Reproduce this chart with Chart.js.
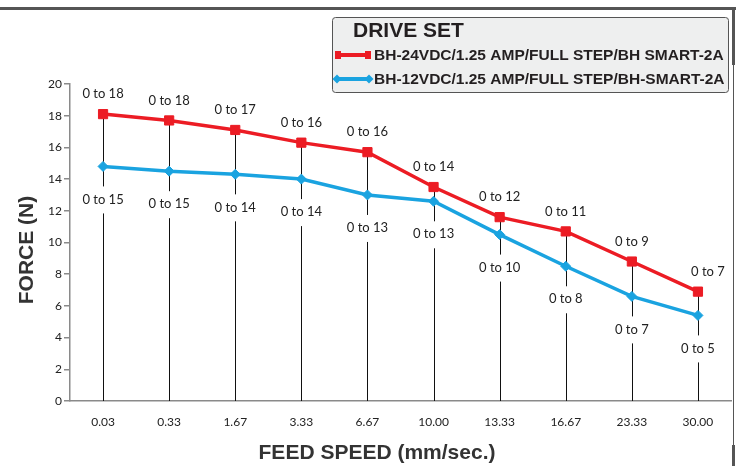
<!DOCTYPE html>
<html>
<head>
<meta charset="utf-8">
<script src="https://cdn.jsdelivr.net/npm/chart.js@4.4.0/dist/chart.umd.min.js"></script>
<style>
  html, body { margin: 0; padding: 0; background: #fff; }
  #wrap { width: 743px; height: 466px; position: relative; }
</style>
</head>
<body>
<div id="wrap"><canvas id="chart"></canvas></div>
<script>
// feed speed categories (mm/sec.)
const speeds = ['0.03', '0.33', '1.67', '3.33', '6.67', '10.00', '13.33', '16.67', '23.33', '30.00'];

// force (N) per drive set
const force24 = [18.1, 17.7, 17.1, 16.3, 15.7, 13.5, 11.6, 10.7, 8.8, 6.9];
const force12 = [14.8, 14.5, 14.3, 14.0, 13.0, 12.6, 10.5, 8.5, 6.6, 5.4];

// range labels printed next to the points
const labels24 = ['0 to 18', '0 to 18', '0 to 17', '0 to 16', '0 to 16', '0 to 14', '0 to 12', '0 to 11', '0 to 9', '0 to 7'];
const labels12 = ['0 to 15', '0 to 15', '0 to 14', '0 to 14', '0 to 13', '0 to 13', '0 to 10', '0 to 8', '0 to 7', '0 to 5'];

const legendTitle = 'DRIVE SET';
const series24Name = 'BH-24VDC/1.25 AMP/FULL STEP/BH SMART-2A';
const series12Name = 'BH-12VDC/1.25 AMP/FULL STEP/BH-SMART-2A';
const xTitle = 'FEED SPEED (mm/sec.)';
const yTitle = 'FORCE (N)';

const RED = '#ec1c24';
const BLUE = '#1aa3e0';
const labelFont = '13px Lato';
const titleFont = 'bold 21px "Liberation Sans"';

// vertical drop lines + range labels
const dropLabels = {
  id: 'dropLabels',
  beforeDatasetsDraw(chart) {
    const { ctx } = chart;
    const x = chart.scales.x, y = chart.scales.y;
    const y0 = y.getPixelForValue(0);
    ctx.save();
    ctx.strokeStyle = '#111';
    ctx.lineWidth = 1;
    speeds.forEach((s, i) => {
      const px = Math.round(x.getPixelForValue(i)) + 0.5;
      ctx.beginPath();
      ctx.moveTo(px, y.getPixelForValue(force24[i]));
      ctx.lineTo(px, y0);
      ctx.stroke();
    });
    // blue labels sit on white boxes that break the line
    ctx.font = labelFont;
    ctx.textAlign = 'center';
    ctx.textBaseline = 'middle';
    speeds.forEach((s, i) => {
      const px = x.getPixelForValue(i);
      const py = y.getPixelForValue(force12[i]) + 33;
      const w = ctx.measureText(labels12[i]).width + 8;
      ctx.fillStyle = '#fff';
      ctx.fillRect(px - w / 2, py - 13, w, 27);
      ctx.fillStyle = '#222';
      ctx.fillText(labels12[i], px, py);
    });
    ctx.restore();
  },
  afterDatasetsDraw(chart) {
    const { ctx } = chart;
    const x = chart.scales.x, y = chart.scales.y;
    ctx.save();
    ctx.font = labelFont;
    ctx.textAlign = 'center';
    ctx.textBaseline = 'middle';
    ctx.fillStyle = '#222';
    speeds.forEach((s, i) => {
      let px = x.getPixelForValue(i);
      if (i === speeds.length - 1) px += 10;
      ctx.fillText(labels24[i], px, y.getPixelForValue(force24[i]) - 20);
    });
    ctx.restore();
  },
  afterDraw(chart) {
    const { ctx } = chart;
    ctx.save();
    // axis titles
    ctx.fillStyle = '#333';
    ctx.font = titleFont;
    ctx.textAlign = 'center';
    ctx.textBaseline = 'alphabetic';
    ctx.fillText(xTitle, 377, 459);
    ctx.translate(33, 250);
    ctx.rotate(-Math.PI / 2);
    ctx.fillText(yTitle, 0, 0);
    ctx.setTransform(1, 0, 0, 1, 0, 0);

    // outer frame (top and right)
    ctx.fillStyle = '#555';
    ctx.fillRect(0, 7, 736, 3);
    ctx.fillRect(732, 8, 3, 57);
    ctx.fillRect(733, 65, 1, 380);
    ctx.fillRect(732, 445, 3, 21);

    // legend box
    const bx = 332.5, by = 17.5, bw = 396, bh = 75;
    ctx.beginPath();
    ctx.roundRect(bx, by, bw, bh, 3);
    ctx.fillStyle = '#eeefef';
    ctx.fill();
    ctx.strokeStyle = '#555';
    ctx.lineWidth = 1;
    ctx.stroke();

    ctx.fillStyle = '#231f20';
    ctx.textAlign = 'left';
    ctx.font = 'bold 21px "Liberation Sans"';
    ctx.fillText(legendTitle, 353, 37);

    ctx.font = 'bold 15.5px "Liberation Sans"';
    ctx.fillText(series24Name, 374, 60);
    ctx.fillText(series12Name, 374, 84);

    // red sample
    ctx.fillStyle = RED;
    ctx.fillRect(337, 53, 33, 4);
    ctx.fillRect(335, 51, 6, 8);
    ctx.fillRect(365, 51, 6, 8);
    // blue sample
    ctx.fillStyle = BLUE;
    ctx.fillRect(336, 77, 33, 4);
    [337, 369].forEach(cx => {
      ctx.beginPath();
      ctx.moveTo(cx - 4.5, 79);
      ctx.lineTo(cx, 74.5);
      ctx.lineTo(cx + 4.5, 79);
      ctx.lineTo(cx, 83.5);
      ctx.closePath();
      ctx.fill();
    });
    ctx.restore();
  }
};

new Chart(document.getElementById('chart'), {
  type: 'line',
  data: {
    labels: speeds,
    datasets: [
      {
        label: series24Name,
        data: force24,
        borderColor: RED,
        backgroundColor: RED,
        borderWidth: 3.5,
        pointStyle: 'rect',
        pointRadius: 6.5,
        pointBorderWidth: 1,
        tension: 0
      },
      {
        label: series12Name,
        data: force12,
        borderColor: BLUE,
        backgroundColor: BLUE,
        borderWidth: 3.5,
        pointStyle: 'rectRot',
        pointRadius: 5,
        pointBorderWidth: 1,
        tension: 0
      }
    ]
  },
  options: {
    responsive: true,
    maintainAspectRatio: false,
    animation: false,
    layout: { padding: { top: 84, right: 12, left: 0, bottom: 0 } },
    plugins: { legend: { display: false }, tooltip: { enabled: false } },
    scales: {
      x: {
        offset: true,
        afterFit: s => { s.height = 65; },
        grid: { drawOnChartArea: false, drawTicks: false },
        border: { display: true, color: '#8a8a8a', width: 1.5 },
        ticks: { color: '#222', font: { family: 'Lato', size: 12 }, padding: 14, maxRotation: 0 }
      },
      y: {
        min: 0,
        max: 20,
        afterFit: s => { s.width = 70; },
        grid: { drawOnChartArea: false, drawTicks: true, tickLength: 6, color: '#8a8a8a', lineWidth: 1.5 },
        border: { display: true, color: '#8a8a8a', width: 1.5 },
        ticks: { stepSize: 2, color: '#222', font: { family: 'Lato', size: 12 }, padding: 2 }
      }
    }
  },
  plugins: [dropLabels]
});
</script>
</body>
</html>
